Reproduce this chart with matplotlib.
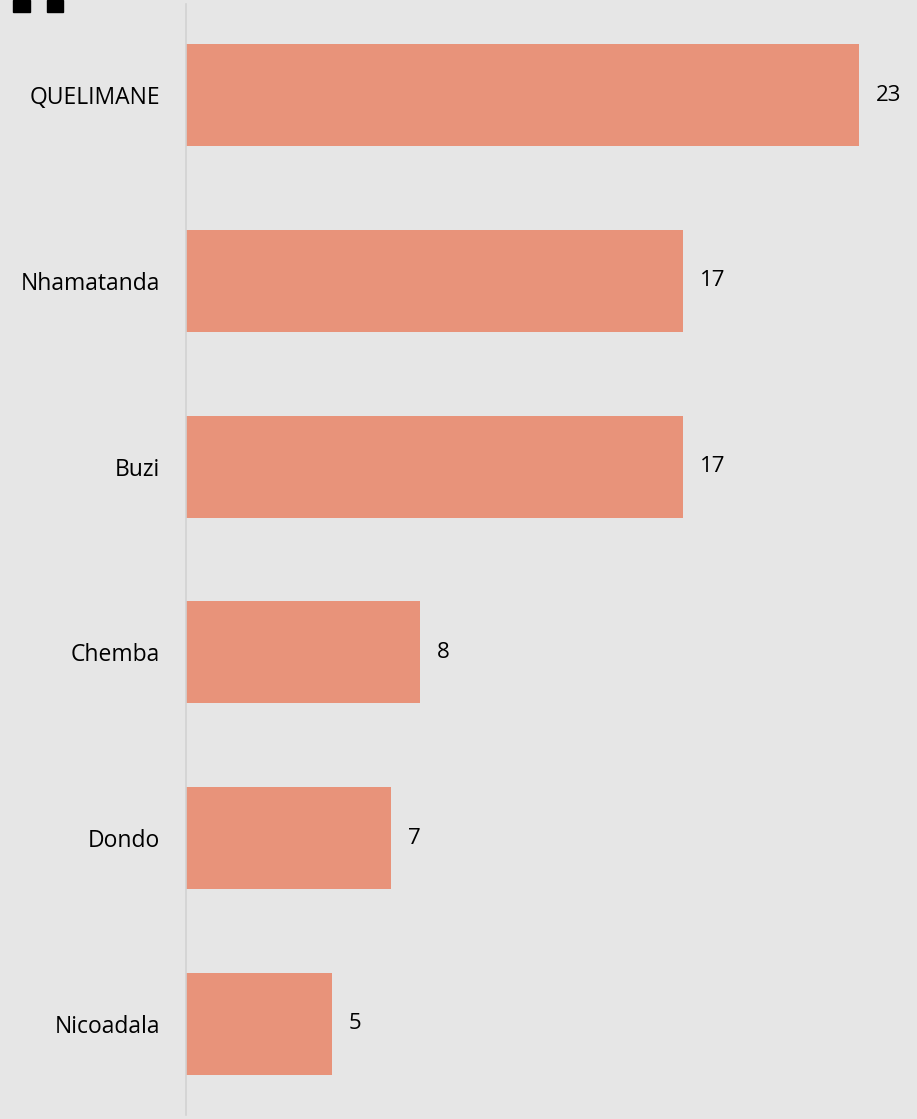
import matplotlib
matplotlib.use("Agg")
import matplotlib.pyplot as plt
from matplotlib.patches import Rectangle

categories = ["QUELIMANE", "Nhamatanda", "Buzi", "Chemba", "Dondo", "Nicoadala"]
values = [23, 17, 17, 8, 7, 5]

BG = "#e6e6e6"
BAR = "#e8937a"

plt.rcParams['font.family'] = ['Open Sans', 'DejaVu Sans']

fig = plt.figure(figsize=(9.17, 11.19), dpi=100, facecolor=BG)
W, H = 917, 1119
ax = fig.add_axes([186 / W, 4 / H, (W - 186) / W, (1115 - 4) / H])
ax.set_facecolor(BG)

ypos = list(range(len(categories)))
ax.barh(ypos, values, height=0.55, color=BAR)
ax.set_ylim(5.49, -0.49)
ax.set_xlim(0, 24.98)

ax.set_yticks(ypos)
ax.set_yticklabels(categories, fontsize=16.5)
ax.tick_params(axis='y', length=0, pad=18.5)
ax.set_xticks([])
for s in ["top", "right", "bottom"]:
    ax.spines[s].set_visible(False)
ax.spines["left"].set_color("#d2d2d2")
ax.spines["left"].set_linewidth(1.2)

for y, v in zip(ypos, values):
    ax.annotate(str(v), xy=(v, y), xytext=(12, 0), textcoords="offset points",
                va="center", ha="left", fontsize=16, color="black")

# cropped title remnants at top-left
fig.patches.append(Rectangle((13 / W, 1 - 12 / H), 17 / W, 12 / H, transform=fig.transFigure,
                             color="black", zorder=5))
fig.patches.append(Rectangle((47 / W, 1 - 12 / H), 16 / W, 12 / H, transform=fig.transFigure,
                             color="black", zorder=5))

fig.savefig("out.png", dpi=100, facecolor=BG)
